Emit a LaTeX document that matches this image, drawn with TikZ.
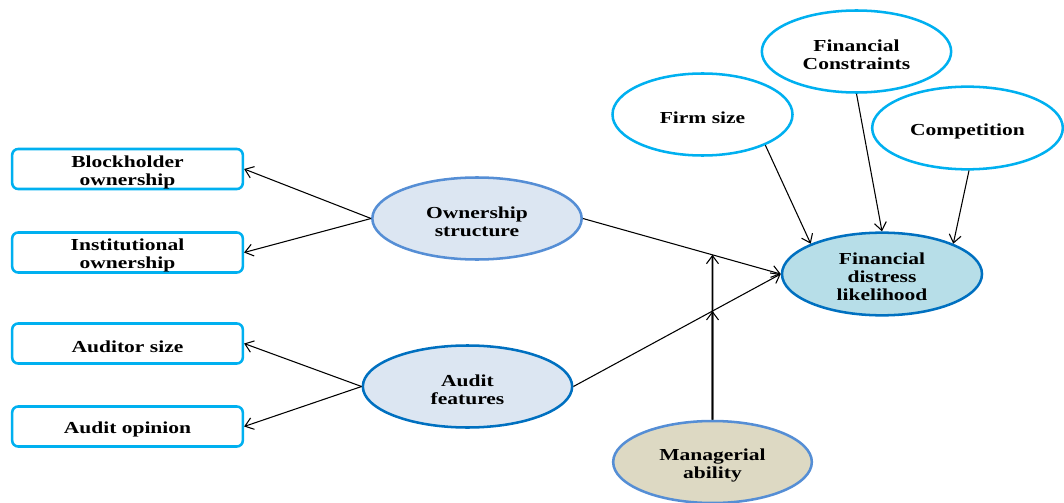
\documentclass[tikz,border=0pt]{standalone}
\usepackage{fontspec}
\setmainfont{Liberation Serif}[FakeStretch=1.28]
\usetikzlibrary{arrows.meta,shapes.geometric,calc}
\definecolor{cyanb}{RGB}{0,176,240}
\definecolor{midb}{RGB}{85,142,213}
\definecolor{darkb}{RGB}{0,112,192}
\definecolor{lightfill}{RGB}{220,230,242}
\definecolor{fdfill}{RGB}{183,222,232}
\definecolor{mgrfill}{RGB}{221,217,195}
\begin{document}
\begin{tikzpicture}[x=0.75pt,y=-0.75pt,
  every node/.style={font=\fontsize{12.6pt}{13.5pt}\selectfont\bfseries, align=center, inner sep=0pt,
    text height={\dimexpr\ht\pgfnodeparttextbox+4.5pt\relax}},
  box/.style={draw=cyanb, line width=1.9pt, rounded corners=4.5pt, fill=white, minimum width=173pt, minimum height=30pt},
  ell/.style={ellipse, line width=1.9pt},
  outer/.style={ell, draw=cyanb, fill=white},
  conn/.style={line width=0.8pt, -{Straight Barb[length=6pt,width=9pt,line width=0.8pt]}}
]
\useasboundingbox (0,0) rectangle (1064,503);
% boxes
\node[box] (blk) at (127.5,169) {Blockholder\\ownership};
\node[box] (ins) at (127.5,252.5) {Institutional\\ownership};
\node[box] (aus) at (127.5,343.5) {Auditor size};
\node[box] (aop) at (127.5,426.5) {Audit opinion};
% ellipses
\node[ell, draw=midb, fill=lightfill, minimum width=157pt, minimum height=61.5pt] (own) at (477,218.5) {Ownership\\structure};
\node[ell, draw=darkb, fill=lightfill, minimum width=157pt, minimum height=61.5pt] (aud) at (467.5,386.5) {Audit\\features};
\node[ell, draw=darkb, fill=fdfill, minimum width=150pt, minimum height=62pt] (fd) at (882,274) {Financial\\distress\\likelihood};
\node[ell, draw=midb, fill=mgrfill, minimum width=149pt, minimum height=61.5pt] (mgr) at (712.5,462) {Managerial\\ability};
\node[outer, minimum width=135pt, minimum height=61.5pt] (firm) at (702.5,114.5) {Firm size};
\node[outer, minimum width=142pt, minimum height=61.5pt] (fin) at (856.5,51.5) {Financial\\Constraints};
\node[outer, minimum width=143pt, minimum height=62pt] (comp) at (967.5,128) {Competition};
% connectors
\draw[conn] (own.west) -- (blk.east);
\draw[conn] (own.west) -- (ins.east);
\draw[conn] (aud.west) -- (aus.east);
\draw[conn] (aud.west) -- (aop.east);
\draw[conn] (own.east) -- (fd.west);
\draw[conn] (aud.east) -- (fd.west);
\coordinate (i1) at (intersection of own.east--fd.west and mgr.north--mgr.south);
\coordinate (i2) at (intersection of aud.east--fd.west and mgr.north--mgr.south);
\draw[conn, line width=1.4pt] (mgr.north) -- (i1);
\draw[conn, line width=1.4pt] (mgr.north) -- (i2);
\draw[conn] (firm.-26) -- (fd.157);
\draw[conn] (fin.south) -- (fd.north);
\draw[conn] (comp.-88) -- (fd.23);
\end{tikzpicture}
\end{document}
